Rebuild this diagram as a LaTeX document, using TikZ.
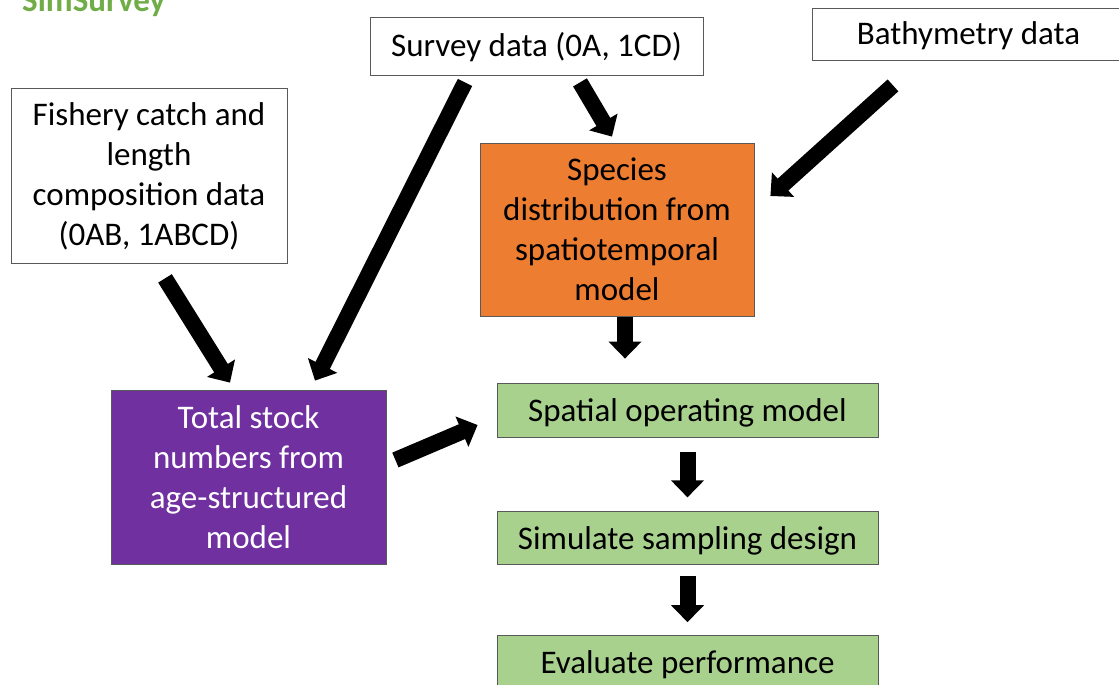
\documentclass[tikz,border=0pt]{standalone}
\usepackage{fontspec}
\setmainfont{Carlito}
\usepackage{tikz}
\usetikzlibrary{arrows.meta,positioning,calc}
\usepackage{xcolor}
\definecolor{boxorange}{HTML}{ED7D31}
\definecolor{boxpurple}{HTML}{7030A0}
\definecolor{boxgreen}{HTML}{A9D18E}
\definecolor{titlegreen}{HTML}{70AD47}

\begin{document}
\begin{tikzpicture}
    [x=1pt,y=-1pt,
    bx/.style={
      rectangle,
      inner sep=0pt,
      draw=black!65,line width=0.8pt,fill=#1,
      align=center,
      font=\fontsize{33}{40}\selectfont
      },
    bx/.default=white,
    oneline/.style={text height=28pt, text depth=6pt},
    blk/.style={
      line width=16pt,
      -{Triangle[width=32pt,length=17pt]}
      }]

    \useasboundingbox (0,0) rectangle (1119,685);

    \node (title) [anchor=base west, text=titlegreen, inner sep=0pt,
      font=\fontsize{33}{40}\selectfont\bfseries] at (22,12) {SimSurvey};

    % data sources
    \node (surv)  [bx, oneline, minimum width=333pt, minimum height=58pt] at (536.5,46) {Survey data (0A, 1CD)};
    \node (bath)  [bx, oneline, minimum width=313pt, minimum height=52pt] at (968.5,34) {Bathymetry data};
    \node (fish)  [bx, minimum width=276pt, minimum height=175pt] at (149,176)
      {Fishery catch and\\length\\composition data\\(0AB, 1ABCD)};

    % models
    \node (spec)  [bx=boxorange, minimum width=274pt, minimum height=173pt] at (617,229.5)
      {Species\\distribution from\\spatiotemporal\\model};
    \node (stock) [bx=boxpurple, text=white, minimum width=275pt, minimum height=174pt] at (248.5,477)
      {Total stock\\numbers from\\age-structured\\model};

    % green chain
    \node (spat)  [bx=boxgreen, oneline, minimum width=381pt, minimum height=54pt] at (687.5,410) {Spatial operating model};
    \node (sim)   [bx=boxgreen, oneline, minimum width=381pt, minimum height=53pt, below=74pt of spat] {Simulate sampling design};
    \node (eval)  [bx=boxgreen, oneline, minimum width=381pt, minimum height=54pt, below=70pt of sim] {Evaluate performance};

    \draw[blk] ($(fish.south)+(16,14.5)$)  -- ($(stock.north)+(-18.5,-7)$);
    \draw[blk] ($(surv.south)+(-71.5,7)$) -- ($(stock.north)+(66.5,-9)$);
    \draw[blk] ($(surv.south)+(43.5,7)$)  -- ($(spec.north)+(-5,-6)$);
    \draw[blk] ($(bath.south)+(-75.5,25)$) -- ($(spec.east)+(16,-33.5)$);
    \draw[blk] ($(spec.south)+(8,1)$)    -- ($(spat.north)+(-62.5,-24)$);
    \draw[blk] ($(stock.east)+(9,-17)$)  -- ($(spat.west)+(-19,15)$);
    \draw[blk] ($(spat.south)+(0,15)$)   -- ($(sim.north)+(0,-14)$);
    \draw[blk] ($(sim.south)+(0,11)$)    -- ($(eval.north)+(0,-13)$);

\end{tikzpicture}
\end{document}
